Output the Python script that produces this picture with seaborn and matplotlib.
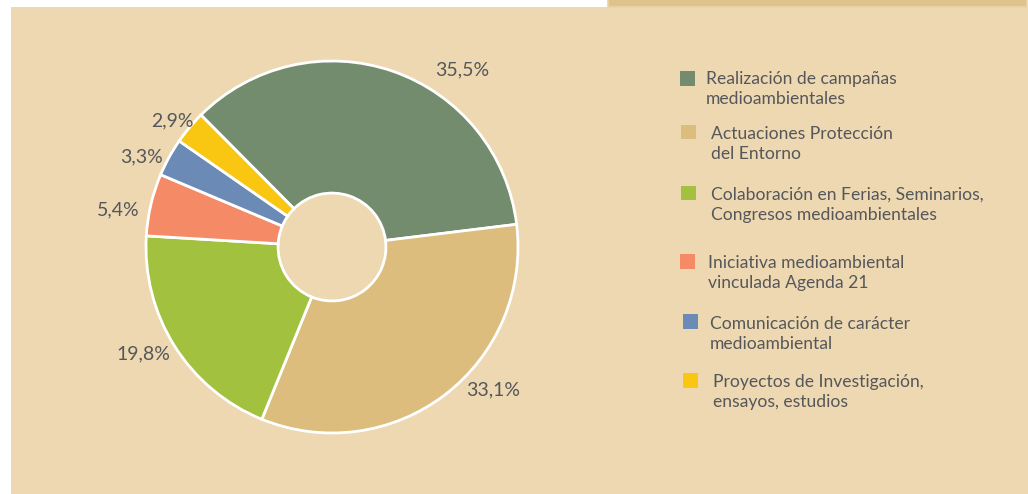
import matplotlib
matplotlib.use("Agg")
import matplotlib.pyplot as plt
from matplotlib.patches import Rectangle
import seaborn as sns

# Data
categories = [
    "Realización de campañas\nmedioambientales",
    "Actuaciones Protección\ndel Entorno",
    "Colaboración en Ferias, Seminarios,\nCongresos medioambientales",
    "Iniciativa medioambiental\nvinculada Agenda 21",
    "Comunicación de carácter\nmedioambiental",
    "Proyectos de Investigación,\nensayos, estudios",
]
shares = [35.5, 33.1, 19.8, 5.4, 3.3, 2.9]
share_labels = ["35,5%", "33,1%", "19,8%", "5,4%", "3,3%", "2,9%"]

# Styling
colors = ["#738C6E", "#DCBD7D", "#A2C13F", "#F58A67", "#6B8AB6", "#F9C712"]
panel_color = "#EDD8B2"
bar_color = "#E0C38A"
text_color = "#55575A"

sns.set_theme(style="white")
plt.rcParams["font.family"] = ["Lato", "DejaVu Sans"]

W, H = 1028, 494
fig = plt.figure(figsize=(W / 100, H / 100), dpi=100, facecolor="white")

# background panel and top tab (pixel coordinates, origin top-left)
def px_rect(x0, y0, x1, y1, **kw):
    fig.patches.append(Rectangle((x0 / W, 1 - y1 / H), (x1 - x0) / W, (y1 - y0) / H,
                                 transform=fig.transFigure, figure=fig, **kw))

px_rect(11, 7, W, H, facecolor=panel_color, edgecolor="none", zorder=-2)
px_rect(608, -2, 1027, 7, facecolor=bar_color, edgecolor="#EAD3A6", linewidth=1.2, zorder=-2)

# donut: centre (332, 247) px, outer radius 186 px -> 1 data unit
cx, cy, R = 332, 247, 186
ax = fig.add_axes([0, 0, 1, 1])
ax.set_zorder(2)
ax.set_facecolor("none")
ax.patch.set_alpha(0)
wedges, _ = ax.pie(
    shares,
    colors=colors,
    startangle=134.8,
    counterclock=False,
    radius=1.0,
    wedgeprops=dict(width=0.71, edgecolor="white", linewidth=2.0),
)
ax.set_aspect("auto")
ax.set_xlim(-cx / R, (W - cx) / R)
ax.set_ylim(-(H - cy) / R, cy / R)
ax.axis("off")

# percentage labels (pixel positions of label centres)
label_pos = [(462, 70), (493, 390), (143, 354), (118, 210), (142, 157), (172, 121)]
for txt, (lx, ly) in zip(share_labels, label_pos):
    ax.text((lx - cx) / R, (cy - ly) / R, txt, ha="center", va="center",
            fontsize=14, color=text_color)

# legend: square marker + two-line caption
legend_pos = [
    (680, 71, 706, 89),
    (681, 125, 711, 144),
    (681, 186, 711, 205),
    (680, 254, 708, 273),
    (683, 314, 710, 334),
    (683, 373, 713, 392),
]
for cat, col, (mx, my, tx, ty) in zip(categories, colors, legend_pos):
    px_rect(mx, my, mx + 14.5, my + 14.5, facecolor=col, edgecolor="none", zorder=1)
    fig.text(tx / W, 1 - ty / H, cat, ha="left", va="center", fontsize=12.6,
             color=text_color, linespacing=1.35)

fig.savefig("out.png", dpi=100, facecolor="white")
